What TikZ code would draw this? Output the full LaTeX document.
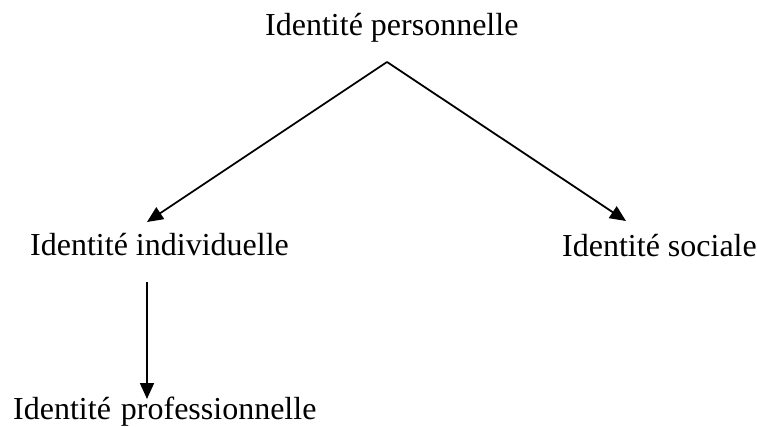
\documentclass[tikz,border=0pt]{standalone}
\usepackage{fontspec}
\setmainfont{Liberation Serif}
\usetikzlibrary{arrows.meta}
\begin{document}
\begin{tikzpicture}[x=1pt,y=-1pt,
  lbl/.style={anchor=base west,inner sep=0pt,font=\fontsize{32}{38}\selectfont},
  conn/.style={line width=1.8pt,-{Triangle[length=16pt,width=14pt]}}]
\useasboundingbox (0,0) rectangle (757,427);
\node[lbl] (top) at (265,35.5) {Identité personnelle};
\node[lbl] (indiv) at (30,256) {Identité individuelle};
\node[lbl] (soc) at (562,256.5) {Identité sociale};
\node[lbl] (prof) at (13,419) {Identité\hspace{10pt}professionnelle};
\coordinate (apex) at (387,62);
\coordinate (tipL) at (147,222);
\coordinate (tipR) at (626,221);
\coordinate (vstart) at (147,282);
\coordinate (vend) at (147,399);
\draw[conn] (apex) -- (tipL);
\draw[conn] (apex) -- (tipR);
\draw[conn] (vstart) -- (vend);
\end{tikzpicture}
\end{document}
